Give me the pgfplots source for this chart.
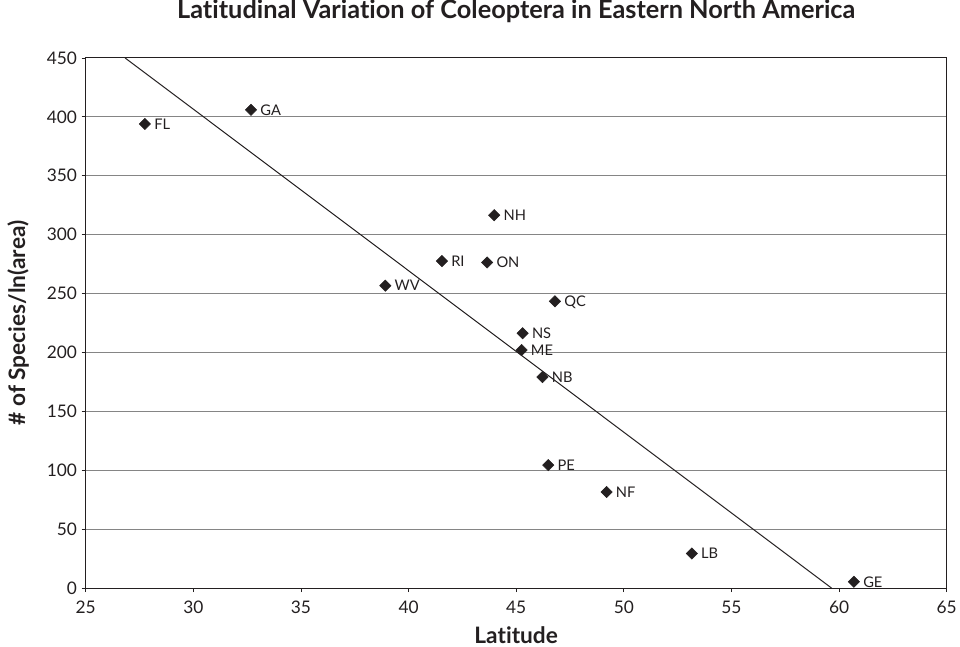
\documentclass[border=0pt]{standalone}
\usepackage{fontspec}
\setmainfont{Lato}[Ligatures=NoCommon]
\usepackage{pgfplots}
\pgfplotsset{compat=1.18}
\definecolor{ink}{HTML}{231F20}
\definecolor{gridc}{HTML}{858585}

\begin{document}
\begin{tikzpicture}
\begin{axis}[
  scale only axis, width=646pt, height=397.7pt,
  xmin=25, xmax=65, ymin=0, ymax=450,
  xtick={25,30,...,65}, ytick={0,50,...,450},
  tick align=outside, xtick pos=bottom, ytick pos=left,
  major tick length=3pt,
  tick style={ink, line width=0.6pt},
  ymajorgrids, grid style={gridc, line width=0.75pt},
  axis line style={ink, line width=0.75pt},
  /pgf/number format/assume math mode=true,
  ticklabel style={font=\fontsize{13}{15}\selectfont, text=ink},
  xticklabel style={yshift=-3.5pt},
  title={Latitudinal Variation of Coleoptera in Eastern North America},
  title style={at={(axis description cs:0.5,1.0591)}, anchor=base, yshift=0pt,
    font=\bfseries\fontsize{19}{22}\selectfont, text=ink},
  xlabel={Latitude},
  xlabel style={at={(axis description cs:0.5,-0.1051)}, anchor=base,
    font=\bfseries\fontsize{17}{20}\selectfont, text=ink},
  ylabel={\# of Species/ln(area)},
  ylabel style={at={(axis description cs:-0.0786,0.5)}, anchor=center,
    font=\bfseries\fontsize{17}{20}\selectfont, text=ink},
]
\addplot[only marks, mark=square*, mark size=3pt,
  mark options={rotate=45, fill=ink, draw=ink},
  nodes near coords, point meta=explicit symbolic,
  every node near coord/.append style={anchor=west, xshift=3.5pt,
    font=\fontsize{11}{13}\selectfont, text=ink, text depth=0pt}]
  table[meta=label] {
x y label
27.75 394 FL
32.68 406 GA
43.98 316.5 NH
41.55 277.6 RI
43.65 276.4 ON
38.92 256.7 WV
46.80 243.4 QC
45.30 216.3 NS
45.25 202 ME
46.22 179.1 NB
46.49 104.4 PE
49.20 81.5 NF
53.16 29.3 LB
60.69 5.3 GE
};
\addplot[no marks, ink, line width=0.75pt] coordinates {(26.83,450) (59.65,0)};
\end{axis}
\pgfresetboundingbox
\path (-64.3pt,-44pt) rectangle (656pt,441.2pt);
\end{tikzpicture}
\end{document}
